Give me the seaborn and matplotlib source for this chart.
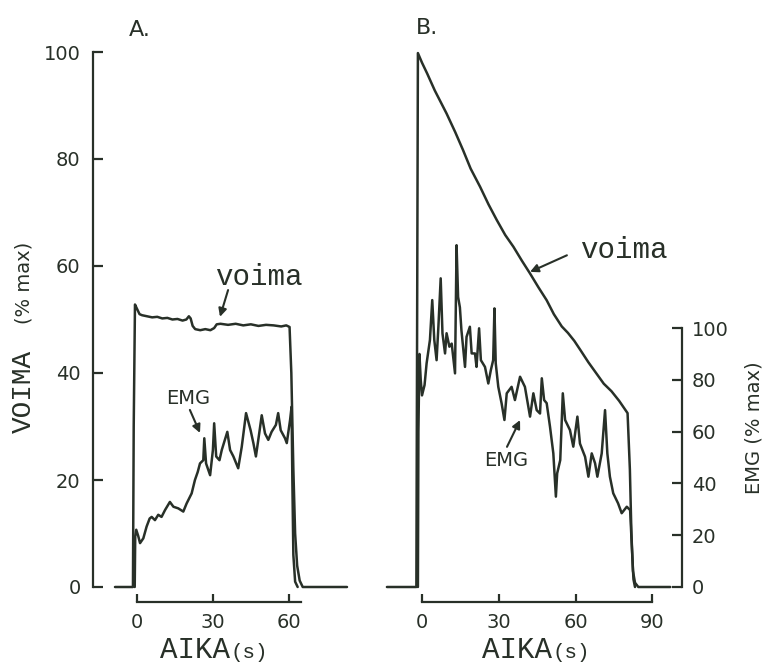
import numpy as np
import pandas as pd
import matplotlib
matplotlib.use("Agg")
import matplotlib.pyplot as plt
import seaborn as sns

# ---------------- data ----------------
# Panel A: force (VOIMA, % max) and EMG
tA_force = [-8.7, -1.6, -1.3, -0.8, 0, 1, 2, 4, 6, 8, 10, 12, 14, 16, 18, 19.5, 20.5, 21.2,
            22, 23, 25, 27, 29, 30.5, 31.5, 33, 36, 39, 42, 45, 48, 51, 54, 57, 59, 60.3,
            61, 61.8, 62.5, 63.3, 64.3, 65.5, 83]
vA_force = [0, 0, 30, 52.8, 52.0, 51.0, 50.8, 50.6, 50.4, 50.5, 50.2, 50.3, 50.0, 50.1, 49.8,
            50.0, 50.6, 50.2, 48.8, 48.2, 48.0, 48.2, 48.0, 48.4, 49.1, 49.2, 49.0, 49.2, 48.9,
            49.1, 48.8, 49.0, 48.9, 48.7, 48.9, 48.6, 40, 22, 10, 4, 1.2, 0, 0]

tA_emg = [-0.9, -0.7, -0.3, 0.5, 1.2, 2.5, 3.8, 5.0, 5.8, 7.1, 8.4, 9.7, 11.1, 13.0, 14.4,
          16.3, 18.3, 19.6, 21.6, 22.9, 24.0, 24.9, 26.2, 26.6, 27.3, 28.9, 30.0, 30.5, 31.3,
          32.6, 33.5, 35.7, 36.8, 38.1, 40.0, 41.4, 43.1, 44.9, 46.0, 47.0, 48.3, 49.3, 50.6,
          51.9, 53.2, 54.9, 55.8, 56.8, 58.5, 59.2, 60.5, 61.1, 61.4, 61.8, 62.5, 63.5]
vA_emg = [0, 9.5, 10.7, 9.5, 8.2, 9.1, 11.3, 12.8, 13.1, 12.5, 13.5, 13.1, 14.4, 15.9, 15.0,
          14.7, 14.1, 15.6, 17.5, 20.0, 21.5, 23.1, 23.7, 27.8, 23.1, 20.9, 25.6, 30.6, 24.4,
          23.7, 25.6, 29.0, 25.6, 24.4, 22.2, 26.2, 32.5, 29.3, 26.9, 24.4, 28.7, 32.1, 28.7,
          27.5, 29.0, 30.3, 32.5, 29.3, 27.8, 26.9, 31.2, 33.7, 20, 6, 1, 0]

# Panel B: force (VOIMA, % max) and EMG (% max, right axis)
tB_force = [-13.7, -2.2, -1.9, -1.6, 0, 2, 5, 9.6, 13, 16, 19, 22.7, 26, 29.2, 32.5, 35.7,
            39, 42.2, 45.5, 48.7, 51.5, 54.6, 57, 59.5, 62, 65, 68, 71, 74, 77, 80.3, 81.2,
            81.8, 82.4, 83.2, 84.5, 97]
vB_force = [0, 0, 50, 99.8, 98, 96, 92.8, 88.5, 85, 81.7, 78.2, 74.8, 71.5, 68.6, 65.8, 63.6,
            61, 58.6, 56, 53.6, 51, 48.7, 47.5, 46, 44.2, 42, 40, 38, 36.6, 34.8, 32.5, 22,
            10, 3, 0.8, 0, 0]

tB_emg = [-1.6, -1.4, -1.0, -0.5, 0, 1.0, 1.8, 3.1, 4.0, 4.8, 5.7, 6.4, 7.3, 8.0, 9.0, 9.6,
          10.7, 11.6, 12.9, 13.5, 14.1, 14.8, 15.4, 16.8, 17.4, 18.7, 19.4, 20.7, 21.3, 22.3,
          23.0, 24.6, 25.9, 26.9, 27.8, 28.3, 28.8, 29.8, 31.1, 32.2, 33.1, 35.0, 36.3, 38.3,
          40.2, 42.2, 43.5, 44.8, 46.1, 46.8, 47.7, 48.7, 50.0, 51.3, 52.3, 52.8, 54.0, 55.0,
          55.9, 57.8, 59.1, 60.7, 61.7, 63.7, 65.0, 66.3, 67.6, 68.5, 70.2, 71.5, 72.4, 73.4,
          74.7, 76.6, 78.0, 80.0, 81.3, 82.0, 82.6, 83.2]
vB_emg = [0, 60, 90, 80, 74, 78, 86.4, 95.4, 110.8, 95.4, 87.6, 100.5, 119.2, 97.9, 90.2, 98,
          92.8, 94, 82.5, 132, 112, 108, 99.2, 85, 96.6, 100.5, 90.2, 90.2, 85, 99.9, 87.6,
          85, 78.6, 83.8, 87.6, 107.6, 86.4, 77.3, 70.9, 64.5, 74.8, 77.3, 72.2, 81.2, 77.3,
          65.8, 74.8, 68.3, 67, 80.6, 72.2, 71, 61.9, 51.6, 34.9, 43.9, 49, 74.8, 64.5, 60.6,
          54.2, 65.8, 55.4, 50.3, 42.6, 51.6, 47.8, 42.6, 51.6, 68.3, 51.6, 42.6, 36.2, 32.3,
          28.5, 31, 29.7, 15, 3, 0]

force_ticks = [0, 20, 40, 60, 80, 100]
emg_ticks = [0, 20, 40, 60, 80, 100]
xticksA = [0, 30, 60]
xticksB = [0, 30, 60, 90]

# ---------------- style ----------------
sns.set_style("white")
plt.rcParams["font.family"] = ["DejaVu Sans"]
INK = "#283028"
MONO = "Liberation Mono"
LW = 1.8

W, H = 765, 664
fig = plt.figure(figsize=(W / 100, H / 100), dpi=100)
fig.patch.set_facecolor("white")


def fx(px):
    return px / W


def fy(py):
    return 1 - py / H


y_bot, y_top = 587, 52
axA = fig.add_axes([fx(93), fy(y_bot), (370 - 93) / W, (y_bot - y_top) / H])
axB = fig.add_axes([fx(380), fy(y_bot), (682 - 380) / W, (y_bot - y_top) / H])

for ax in (axA, axB):
    ax.set_facecolor("none")

axA.set_xlim((93 - 137) / 2.53, (370 - 137) / 2.53)
axB.set_xlim((380 - 422) / 2.56, (682 - 422) / 2.56)
axA.set_ylim(0, 100)
axB.set_ylim(0, 100)

dfA_f = pd.DataFrame({"t": tA_force, "v": vA_force})
dfA_e = pd.DataFrame({"t": tA_emg, "v": vA_emg})
dfB_f = pd.DataFrame({"t": tB_force, "v": vB_force})
dfB_e = pd.DataFrame({"t": tB_emg, "v": vB_emg})

sns.lineplot(data=dfA_f, x="t", y="v", ax=axA, color=INK, lw=LW, sort=False, estimator=None)
sns.lineplot(data=dfA_e, x="t", y="v", ax=axA, color=INK, lw=LW, sort=False, estimator=None)
sns.lineplot(data=dfB_f, x="t", y="v", ax=axB, color=INK, lw=LW, sort=False, estimator=None)

axB2 = axB.twinx()
axB2.set_ylim(0, 100 / 0.484)
sns.lineplot(data=dfB_e, x="t", y="v", ax=axB2, color=INK, lw=LW, sort=False, estimator=None)

for ax in (axA, axB, axB2):
    for ln in ax.lines:
        ln.set_clip_on(False)
        ln.set_solid_joinstyle("round")
    ax.set_xlabel("")
    ax.set_ylabel("")
    ax.grid(False)

# ---------------- axes / spines ----------------
off = 15 / 1.389  # points
# Panel A
axA.spines["top"].set_visible(False)
axA.spines["right"].set_visible(False)
axA.spines["left"].set_bounds(0, 100)
axA.spines["bottom"].set_position(("outward", off))
axA.spines["bottom"].set_bounds(0, 65)
axA.set_yticks(force_ticks)
axA.set_xticks(xticksA)
# Panel B
for s in ("top", "right", "left"):
    axB.spines[s].set_visible(False)
axB.spines["bottom"].set_position(("outward", off))
axB.spines["bottom"].set_bounds(0, 90)
axB.set_yticks([])
axB.set_xticks(xticksB)
for s in ("top", "left", "bottom"):
    axB2.spines[s].set_visible(False)
axB2.spines["right"].set_bounds(0, 100)
axB2.set_yticks(emg_ticks)

for ax in (axA, axB, axB2):
    for s in ax.spines.values():
        s.set_color(INK)
        s.set_linewidth(1.6)

axA.tick_params(axis="y", direction="in", length=7, width=1.6, color=INK, pad=9,
                labelsize=14, labelcolor=INK, left=True)
axA.tick_params(axis="x", direction="in", length=6, width=1.6, color=INK, pad=8,
                labelsize=14, labelcolor=INK, bottom=True)
axB.tick_params(axis="x", direction="in", length=6, width=1.6, color=INK, pad=8,
                labelsize=14, labelcolor=INK, bottom=True)
axB.tick_params(axis="y", left=False, right=False, labelleft=False)
axB2.tick_params(axis="y", direction="in", length=7, width=1.6, color=INK, pad=7,
                 labelsize=14, labelcolor=INK, right=True)

# ---------------- annotations ----------------
arrow = dict(arrowstyle="-|>", color=INK, lw=1.5, mutation_scale=12, shrinkA=0, shrinkB=0)

axA.text(48.2, 57.9, "voima", family=MONO, fontsize=21, color=INK, ha="center", va="center")
axA.annotate("", xy=(32.8, 50.5), xytext=(36.0, 55.5), arrowprops=arrow)
axA.text(20.2, 35.3, "EMG", fontsize=14, color=INK, ha="center", va="center")
axA.annotate("", xy=(24.9, 28.8), xytext=(20.9, 33.1), arrowprops=arrow)

axB.text(78.9, 63.0, "voima", family=MONO, fontsize=21, color=INK, ha="center", va="center")
axB.annotate("", xy=(42.2, 58.9), xytext=(56.6, 62.0), arrowprops=arrow)
axB.text(32.8, 23.6, "EMG", fontsize=14, color=INK, ha="center", va="center")
axB.annotate("", xy=(38.3, 31.2), xytext=(33.2, 26.2), arrowprops=arrow)

# panel letters
fig.text(fx(140), fy(30), "A.", fontsize=16, color=INK, ha="center", va="center")
fig.text(fx(427), fy(28), "B.", fontsize=16, color=INK, ha="center", va="center")

# axis labels
fig.text(fx(24), fy(391), "VOIMA", family=MONO, fontsize=20, color=INK, rotation=90,
         ha="center", va="center")
fig.text(fx(24), fy(283), "(% max)", fontsize=14, color=INK, rotation=90,
         ha="center", va="center")
fig.text(fx(754), fy(428), "EMG (% max)", fontsize=14, color=INK, rotation=90,
         ha="center", va="center")

for split in (230, 552):
    fig.text(fx(split), fy(650), "AIKA", family=MONO, fontsize=21, color=INK,
             ha="right", va="center")
    fig.text(fx(split), fy(652), "(s)", family=MONO, fontsize=15, color=INK,
             ha="left", va="center")

fig.savefig("out.png", dpi=100, facecolor="white")
